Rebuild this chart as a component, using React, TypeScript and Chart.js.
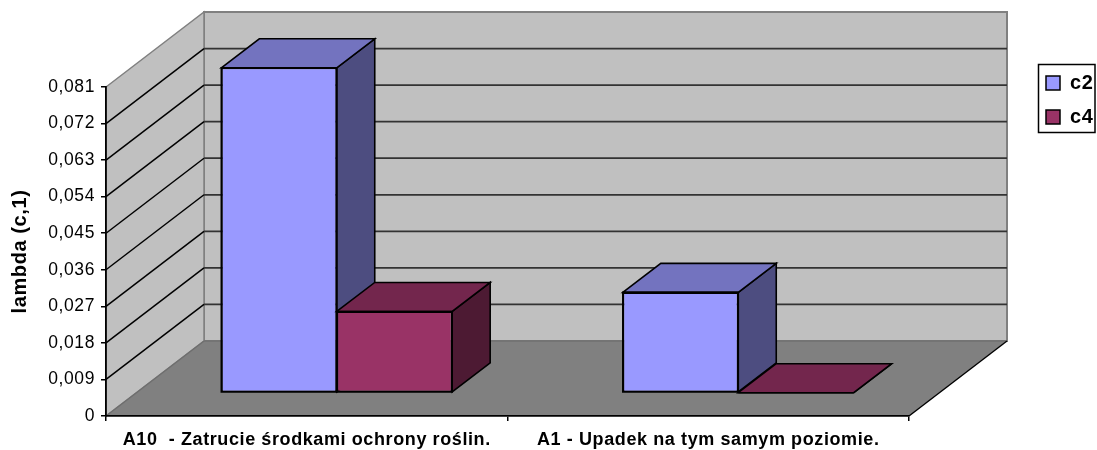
import React, { useEffect, useRef } from "react";
import { Chart, registerables } from "chart.js";

Chart.register(...registerables);

const categories = ["A10  - Zatrucie środkami ochrony roślin.", "A1 - Upadek na tym samym poziomie."];
const c2Values = [0.08, 0.0247];
const c4Values = [0.02, 0];
const seriesNames = ["c2", "c4"];
const axisTitle = "lambda (c,1)";
const axisMax = 0.081;
const axisStep = 0.009;

const fills = ["#9999FF", "#993366"];
const topFills = ["#7373BF", "#73264D"];
const sideFills = ["#4D4D80", "#4D1A33"];

const WALL_DX = 98;
const WALL_DY = -75;
const BAR_DX = 30;
const BAR_DY = -23.3;
const BOX_DX = 38;
const BOX_DY = -29;

function poly(ctx: CanvasRenderingContext2D, pts: number[][], fill: string | null, stroke: string | null, lw = 1.5) {
  ctx.beginPath();
  pts.forEach((p, i) => (i ? ctx.lineTo(p[0], p[1]) : ctx.moveTo(p[0], p[1])));
  ctx.closePath();
  if (fill) {
    ctx.fillStyle = fill;
    ctx.fill();
  }
  if (stroke) {
    ctx.strokeStyle = stroke;
    ctx.lineWidth = lw;
    ctx.lineJoin = "miter";
    ctx.stroke();
  }
}

function line(ctx: CanvasRenderingContext2D, x1: number, y1: number, x2: number, y2: number, stroke: string, lw: number) {
  ctx.beginPath();
  ctx.moveTo(x1, y1);
  ctx.lineTo(x2, y2);
  ctx.strokeStyle = stroke;
  ctx.lineWidth = lw;
  ctx.stroke();
}

const room3d = {
  id: "room3d",
  beforeDraw(chart: any) {
    const { ctx, chartArea: a, scales } = chart;
    (ctx as any).letterSpacing = "0.6px";
    const y = scales.y;
    const L = a.left, R = a.right, T = y.getPixelForValue(axisMax), B = y.getPixelForValue(0);
    const bL = L + WALL_DX, bR = R + WALL_DX;
    ctx.save();
    poly(ctx, [[bL, T + WALL_DY], [bR, T + WALL_DY], [bR, B + WALL_DY], [bL, B + WALL_DY]], "#C0C0C0", "#808080", 2);
    poly(ctx, [[L, T], [bL, T + WALL_DY], [bL, B + WALL_DY], [L, B]], "#C0C0C0", "#808080", 1.5);
    y.ticks.forEach((t: any) => {
      if (t.value <= 0 || t.value >= axisMax - 1e-9) return;
      const py = y.getPixelForValue(t.value);
      line(ctx, L, py, bL, py + WALL_DY, "#000000", 1.5);
      line(ctx, bL, py + WALL_DY, bR, py + WALL_DY, "#333333", 1.8);
    });
    poly(ctx, [[L, B], [R, B], [bR, B + WALL_DY], [bL, B + WALL_DY]], "#808080", null);
    line(ctx, L, B, bL, B + WALL_DY, "#6E6E6E", 1.5);
    line(ctx, bL, B + WALL_DY, bR, B + WALL_DY, "#707070", 1.5);
    line(ctx, R, B, bR, B + WALL_DY, "#000000", 1.4);
    ctx.restore();
  },
  // Series are painted first-to-last so nearer boxes overlap the depth faces correctly.
  beforeDatasetsDraw(chart: any) {
    const ctx = chart.ctx;
    chart.data.datasets.forEach((_: any, i: number) => {
      const meta = chart.getDatasetMeta(i);
      ctx.save();
      ctx.translate(BAR_DX, BAR_DY);
      meta.data.forEach((bar: any) => {
        const { x, y, base, width } = bar.getProps(["x", "y", "base", "width"], true);
        const l = x - width / 2, r = x + width / 2;
        poly(ctx, [[r, y], [r + BOX_DX, y + BOX_DY], [r + BOX_DX, base + BOX_DY], [r, base]], sideFills[i], "#000000", 1.6);
        poly(ctx, [[l, y], [l + BOX_DX, y + BOX_DY], [r + BOX_DX, y + BOX_DY], [r, y]], topFills[i], "#000000", 1.6);
      });
      meta.controller.draw();
      meta.data.forEach((bar: any) => {
        const { x, y, base, width } = bar.getProps(["x", "y", "base", "width"], true);
        const l = x - width / 2, r = x + width / 2;
        poly(ctx, [[l, y], [r, y], [r, base], [l, base]], null, "#000000", 1.6);
      });
      ctx.restore();
    });
    return false;
  },
  afterLayout(chart: any) {
    const lg = chart.legend;
    if (!lg) return;
    lg.left = 1032;
    lg.top = 59;
    lg.right = 1097;
    lg.bottom = 300;
    lg.width = 65;
    lg.height = 241;
  },
  afterDraw(chart: any) {
    const ctx = chart.ctx;
    ctx.save();
    ctx.strokeStyle = "#000000";
    ctx.lineWidth = 1.5;
    ctx.strokeRect(1038.5, 64.5, 56.5, 68);
    ctx.restore();
  },
};

export default function App() {
  const ref = useRef<HTMLCanvasElement>(null);
  useEffect(() => {
    const chart = new Chart(ref.current as HTMLCanvasElement, {
      type: "bar",
      data: {
        labels: categories,
        datasets: [
          { label: seriesNames[0], data: c2Values, backgroundColor: fills[0], borderColor: "#000000", borderWidth: 1.5, borderSkipped: false, clip: false },
          { label: seriesNames[1], data: c4Values, backgroundColor: fills[1], borderColor: "#000000", borderWidth: 1.5, borderSkipped: false, clip: false },
        ],
      },
      options: {
        responsive: false,
        animation: false,
        layout: { padding: { top: 87, right: 0, left: 0, bottom: 0 } },
        datasets: { bar: { categoryPercentage: 0.575, barPercentage: 1 } },
        plugins: {
          title: { display: false },
          tooltip: { enabled: false },
          legend: {
            position: "right",
            align: "start",
            labels: {
              boxWidth: 14,
              boxHeight: 14,
              padding: 14,
              color: "#000000",
              font: { family: "Liberation Sans", size: 20, weight: "bold" },
            },
          },
        },
        scales: {
          x: {
            grid: { drawOnChartArea: false, drawTicks: true, tickLength: 5, color: "#000000", lineWidth: 1.5 },
            border: { color: "#000000", width: 1.8 },
            ticks: {
              color: "#000000",
              maxRotation: 0,
              autoSkip: false,
              padding: 8,
              font: { family: "Liberation Sans", size: 18, weight: "bold" },
            },
            afterFit(s: any) {
              s.height = 34;
            },
          },
          y: {
            min: 0,
            max: axisMax,
            grid: { drawOnChartArea: false, drawTicks: true, tickLength: 5, color: "#000000", lineWidth: 1.5 },
            border: { color: "#000000", width: 1.8 },
            title: {
              display: true,
              text: axisTitle,
              color: "#000000",
              padding: { top: 8, bottom: 0 },
              font: { family: "Liberation Sans", size: 20, weight: "bold" },
            },
            ticks: {
              stepSize: axisStep,
              color: "#000000",
              padding: 6,
              font: { family: "Liberation Sans", size: 17.5 },
              callback: (v: any) => (Number(v) === 0 ? "0" : Number(v).toFixed(3).replace(".", ",")),
            },
            afterFit(s: any) {
              s.width = 106;
            },
          },
          spacer: {
            type: "linear",
            position: "right",
            display: true,
            grid: { display: false },
            border: { display: false },
            ticks: { display: false },
            afterFit(s: any) {
              s.width = 188 - (s.chart.legend ? s.chart.legend.width : 0);
            },
          },
        },
      },
      plugins: [room3d],
    } as any);
    return () => chart.destroy();
  }, []);
  return (
    <canvas
      ref={ref}
      width={1097}
      height={450}
      style={{ position: "fixed", left: 0, top: 0, width: 1097, height: 450, display: "block", background: "#ffffff" }}
    />
  );
}
